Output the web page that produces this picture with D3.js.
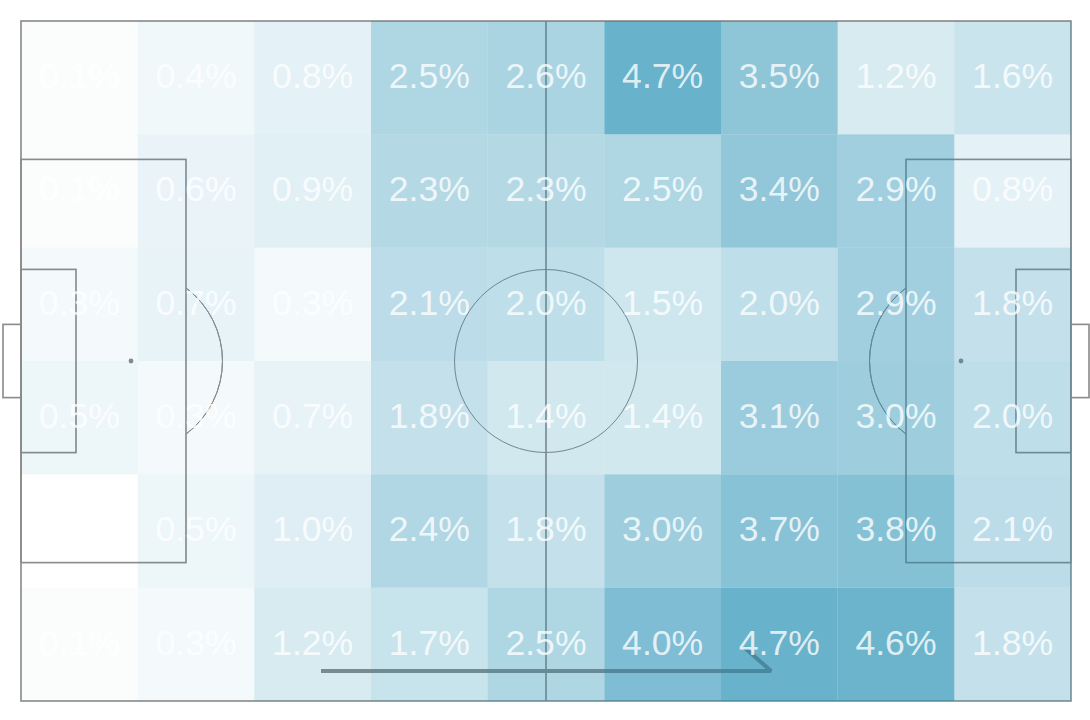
<!DOCTYPE html>
<html>
<head>
	<meta charset="utf-8">
	<title>Pitch heatmap</title>
	<script type="text/javascript" src="https://cdn.jsdelivr.net/npm/d3@7"></script>
	<style>
		html, body { margin: 0; padding: 0; background: #fff; }
		svg { display: block; }
	</style>
</head>
<body>
<div id="chart"></div>
<script type="text/javascript">
	// share of touches per zone, top row first, null = no label
	var rows = ["r0", "r1", "r2", "r3", "r4", "r5"];
	var cols = ["c0", "c1", "c2", "c3", "c4", "c5", "c6", "c7", "c8"];
	var row0 = [0.1, 0.4, 0.8, 2.5, 2.6, 4.7, 3.5, 1.2, 1.6];
	var row1 = [0.1, 0.6, 0.9, 2.3, 2.3, 2.5, 3.4, 2.9, 0.8];
	var row2 = [0.3, 0.7, 0.3, 2.1, 2.0, 1.5, 2.0, 2.9, 1.8];
	var row3 = [0.5, 0.3, 0.7, 1.8, 1.4, 1.4, 3.1, 3.0, 2.0];
	var row4 = [null, 0.5, 1.0, 2.4, 1.8, 3.0, 3.7, 3.8, 2.1];
	var row5 = [0.1, 0.3, 1.2, 1.7, 2.5, 4.0, 4.7, 4.6, 1.8];
	var values = [row0, row1, row2, row3, row4, row5];

	var pitchLength = 105, pitchWidth = 68;	// metres
	var maxValue = 4.7;

	var svg = d3.select("#chart").append("svg").attr("width", 1090).attr("height", 720);

	var x = d3.scaleLinear().domain([0, pitchLength]).range([21, 1071]);
	var y = d3.scaleLinear().domain([0, pitchWidth]).range([21, 701]);
	var cellX = d3.scaleBand().domain(cols).range([21, 1071]);
	var cellY = d3.scaleBand().domain(rows).range([21, 701]);
	var alpha = d3.scaleLinear().domain([0, maxValue]).range([0.008, 0.8]);

	function box(g, x0, y0, x1, y1){
		g.append("rect")
			.attr("x", x(x0)).attr("y", y(y0))
			.attr("width", x(x1) - x(x0)).attr("height", y(y1) - y(y0));
	}

	function draw_pitch(g){
		var midY = pitchWidth / 2;
		box(g, 0, 0, pitchLength, pitchWidth);
		[[0, 1], [pitchLength, -1]].forEach(function(side){
			var e = side[0], d = side[1];
			box(g, Math.min(e, e + d * 16.5), midY - 20.16, Math.max(e, e + d * 16.5), midY + 20.16);
			box(g, Math.min(e, e + d * 5.5), midY - 9.16, Math.max(e, e + d * 5.5), midY + 9.16);
			box(g, Math.min(e, e - d * 1.8), midY - 3.66, Math.max(e, e - d * 1.8), midY + 3.66);
			// penalty arc, only the part outside the box
			var a = Math.acos(5.5 / 9.15);
			var arc = d3.arc()
				.innerRadius(x(9.15) - x(0)).outerRadius(x(9.15) - x(0))
				.startAngle(d > 0 ? Math.PI / 2 - a : -Math.PI / 2 - a)
				.endAngle(d > 0 ? Math.PI / 2 + a : -Math.PI / 2 + a);
			g.append("path")
				.attr("d", arc())
				.attr("stroke-width", 1)
				.attr("transform", "translate(" + x(e + d * 11) + "," + y(midY) + ")");
			g.append("circle")
				.attr("cx", x(e + d * 11)).attr("cy", y(midY)).attr("r", 1.6)
				.style("fill", g.attr("stroke"));
		});
		g.append("line")
			.attr("x1", x(pitchLength / 2)).attr("x2", x(pitchLength / 2))
			.attr("y1", y(0)).attr("y2", y(pitchWidth));
		g.append("circle")
			.attr("cx", x(pitchLength / 2)).attr("cy", y(midY))
			.attr("r", x(9.15) - x(0))
			.attr("stroke-width", 1);
		// attack direction arrow
		g.append("path")
			.attr("d", d3.line()([[x(30), y(65)], [x(75), y(65)], [x(72.4), y(62.7)]]))
			.attr("stroke-linejoin", "bevel")
			.attr("stroke-width", 4);
	}

	// the lines sit under the cells, with a faint second pass on top of them
	var under = svg.append("g").attr("fill", "none").attr("stroke", "#a4a4a4").attr("stroke-width", 1.6);
	draw_pitch(under);

	var cells = [];
	values.forEach(function(row, r){
		row.forEach(function(v, c){
			cells.push({row: rows[r], col: cols[c], value: v});
		});
	});

	svg.append("g").selectAll("rect").data(cells).enter().append("rect")
		.attr("x", function(d){ return cellX(d.col); })
		.attr("y", function(d){ return cellY(d.row); })
		.attr("width", cellX.bandwidth())
		.attr("height", cellY.bandwidth())
		.attr("fill", "rgb(66,159,190)")
		.attr("fill-opacity", function(d){ return d.value === null ? 0 : alpha(d.value); });

	var over = svg.append("g").attr("fill", "none").attr("stroke", "#000000").attr("stroke-width", 1.6).attr("opacity", 0.14);
	draw_pitch(over);

	svg.append("g").selectAll("text").data(cells.filter(function(d){ return d.value !== null; })).enter().append("text")
		.attr("x", function(d){ return cellX(d.col) + cellX.bandwidth() / 2; })
		.attr("y", function(d){ return cellY(d.row) + cellY.bandwidth() / 2 + 10.2; })
		.attr("text-anchor", "middle")
		.attr("font-family", "'Liberation Sans', Arial, sans-serif")
		.attr("font-size", 35.6)
		.attr("fill", "#ffffff")
		.attr("fill-opacity", 0.8)
		.text(function(d){ return d.value.toFixed(1) + "%"; });
</script>
</body>
</html>
